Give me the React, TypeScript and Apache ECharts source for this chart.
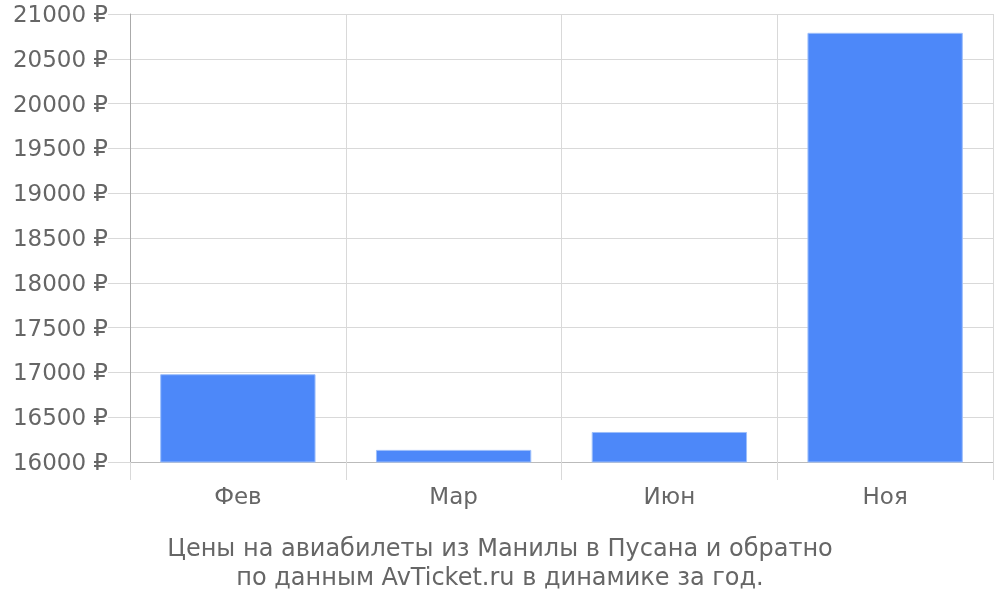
import React, { useEffect, useRef } from 'react';
import * as echarts from 'echarts';

// months shown on the category axis
const categories = ['Фев', 'Мар', 'Июн', 'Ноя'];
// ticket price, roubles
const prices = [16980, 16135, 16335, 20790];
const yMin = 16000;
const yMax = 21000;
const yStep = 500;
const titleLines = [
  'Цены на авиабилеты из Манилы в Пусана и обратно',
  'по данным AvTicket.ru в динамике за год.',
];

const FONT = 'DejaVu Sans';

export default function App() {
  const chartRef = useRef<HTMLDivElement>(null);

  useEffect(() => {
    if (!chartRef.current) return;
    const chart = echarts.init(chartRef.current, null, { renderer: 'svg' });

    chart.setOption({
      animation: false,
      textStyle: { fontFamily: FONT },
      title: {
        text: titleLines.join('\n'),
        left: 'center',
        top: 528,
        textStyle: {
          fontFamily: FONT,
          fontSize: 24,
          lineHeight: 29,
          fontWeight: 'normal',
          color: '#666',
        },
      },
      grid: { left: 130, right: 7, top: 14, bottom: 138 },
      xAxis: {
        type: 'category',
        data: categories,
        axisLine: { lineStyle: { color: '#bbb', width: 1 } },
        axisTick: { show: true, length: 18, lineStyle: { color: '#d9d9d9' } },
        splitLine: { show: true, lineStyle: { color: '#d9d9d9' } },
        axisLabel: { color: '#666', fontSize: 23, margin: 22, fontFamily: FONT },
      },
      yAxis: {
        type: 'value',
        min: yMin,
        max: yMax,
        interval: yStep,
        axisLine: { show: true, lineStyle: { color: '#aaa' } },
        axisTick: { show: true, length: 22, lineStyle: { color: '#d9d9d9' } },
        splitLine: { lineStyle: { color: '#d9d9d9' } },
        axisLabel: {
          color: '#666',
          fontSize: 23,
          margin: 22,
          fontFamily: FONT,
          formatter: (v: number) => `${v} ₽`,
        },
      },
      series: [
        {
          type: 'bar',
          data: prices,
          barCategoryGap: '28%',
          itemStyle: { color: '#4d88f9', borderColor: '#9dbffb', borderWidth: 1 },
        },
      ],
    });

    return () => {
      chart.dispose();
    };
  }, []);

  return (
    <div
      ref={chartRef}
      style={{ position: 'fixed', left: 0, top: 0, width: 1000, height: 600 }}
    ></div>
  );
}
